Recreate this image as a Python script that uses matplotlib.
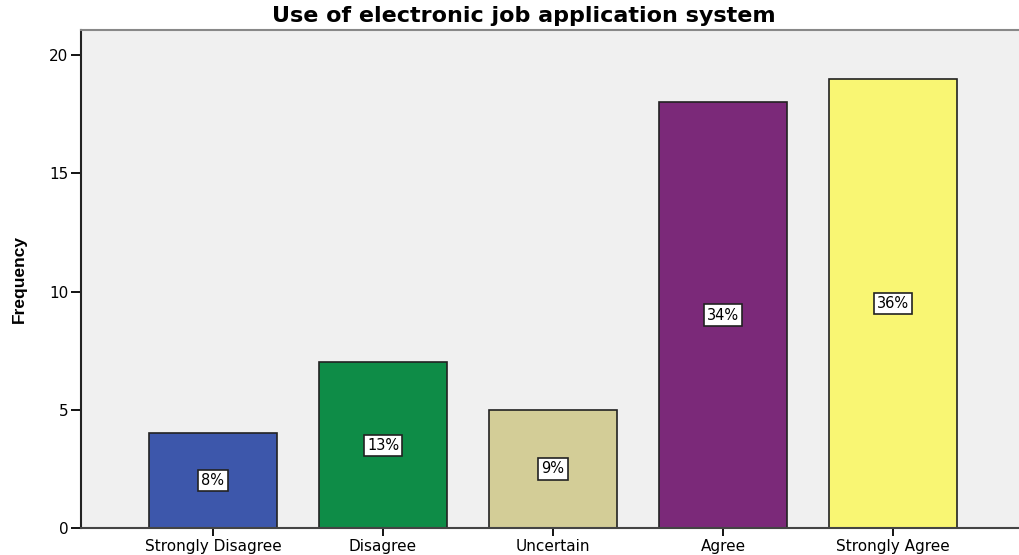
import numpy as np
import matplotlib.pyplot as plt

# -----------------------------------
categories = ['Strongly Disagree', 'Disagree', 'Uncertain', 'Agree', 'Strongly Agree']
frequency = [4, 7, 5, 18, 19]
percent_labels = ['8%', '13%', '9%', '34%', '36%']
bar_colors = ['#3D57AB', '#0E8C47', '#D3CD97', '#7B2979', '#F9F673']
# -----------------------------------

plt.rcParams['font.family'] = ['DejaVu Sans']

fig = plt.figure(figsize=(10.19, 5.55), dpi=100)
ax = fig.add_axes([81 / 1019, 27 / 555, 1 - 81 / 1019 + 0.01, (528 - 30) / 555])
ax.set_facecolor('#F0F0F0')

x = np.arange(len(categories))
ax.bar(x, frequency, width=0.75, color=bar_colors, edgecolor='#222222', linewidth=1.2, zorder=2)

for xi, f, lab in zip(x, frequency, percent_labels):
    ax.text(xi, f / 2, lab, ha='center', va='center', fontsize=10.5, zorder=3,
            bbox=dict(boxstyle='square,pad=0.22', facecolor='white', edgecolor='#222222', linewidth=1.2))

ax.set_xlim(-0.776, 4.8)
ax.set_ylim(0, 21.06)
ax.set_yticks([0, 5, 10, 15, 20])
ax.set_xticks(x)
ax.set_xticklabels(categories, fontsize=11)
ax.tick_params(axis='y', labelsize=11, length=7, width=1.3, direction='out', pad=2)
ax.tick_params(axis='x', length=6, width=1.3, direction='out', pad=2)

ax.spines['left'].set_color('#222222')
ax.spines['left'].set_linewidth(1.5)
ax.spines['bottom'].set_color('#444444')
ax.spines['bottom'].set_linewidth(1.5)
ax.spines['top'].set_color('#888888')
ax.spines['top'].set_linewidth(1.5)
ax.spines['right'].set_visible(False)

ax.set_ylabel('Frequency', fontsize=12.5, fontweight='bold', family='Liberation Sans', labelpad=16)
fig.text(524 / 1019, 1 - 16 / 555, 'Use of electronic job application system',
         ha='center', va='center', fontsize=16, fontweight='bold')

fig.savefig('out.png', dpi=100)
